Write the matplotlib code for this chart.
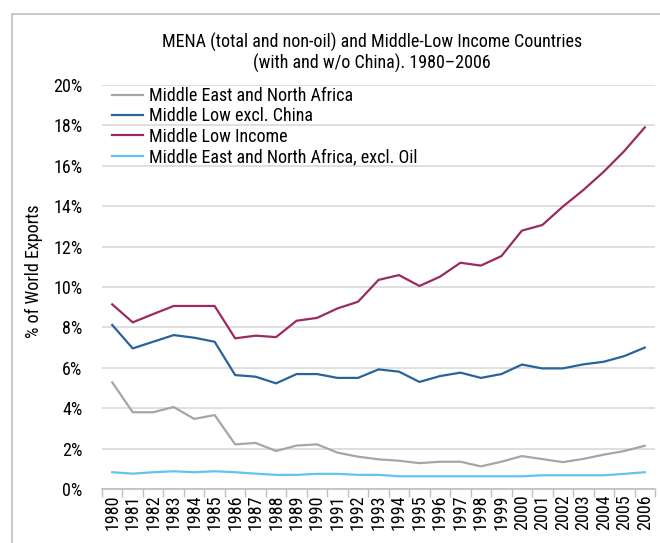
import numpy as np
import matplotlib
matplotlib.use("Agg")
import matplotlib.pyplot as plt
from matplotlib.patches import Rectangle
from matplotlib.ticker import FixedLocator, FuncFormatter

plt.rcParams['font.family'] = ['Roboto Condensed', 'DejaVu Sans']

# data (% of world exports)
years = list(range(1980, 2007))
mena = [5.28, 3.80, 3.80, 4.06, 3.47, 3.66, 2.21, 2.28, 1.88, 2.15, 2.21, 1.80, 1.60,
        1.47, 1.40, 1.28, 1.35, 1.35, 1.12, 1.35, 1.63, 1.48, 1.33, 1.49, 1.70, 1.88, 2.14]
mid_low_ex_china = [8.12, 6.96, 7.29, 7.62, 7.49, 7.29, 5.64, 5.56, 5.23, 5.69, 5.69, 5.50, 5.50,
                    5.92, 5.81, 5.30, 5.59, 5.76, 5.50, 5.69, 6.16, 5.97, 5.97, 6.17, 6.30, 6.58, 7.00]
mid_low = [9.14, 8.25, 8.66, 9.06, 9.06, 9.06, 7.46, 7.59, 7.52, 8.33, 8.47, 8.94, 9.27,
           10.35, 10.59, 10.05, 10.51, 11.20, 11.06, 11.53, 12.79, 13.07, 13.98, 14.80, 15.71, 16.73, 17.90]
mena_ex_oil = [0.83, 0.76, 0.83, 0.88, 0.83, 0.88, 0.83, 0.76, 0.70, 0.70, 0.75, 0.75, 0.70,
               0.70, 0.63, 0.63, 0.63, 0.63, 0.63, 0.63, 0.63, 0.68, 0.68, 0.68, 0.68, 0.75, 0.83]
labels = ['Middle East and North Africa', 'Middle Low excl. China', 'Middle Low Income',
          'Middle East and North Africa, excl. Oil']
yticks = [0, 2, 4, 6, 8, 10, 12, 14, 16, 18, 20]

fs = 13
fig = plt.figure(figsize=(6.6, 5.43), dpi=100)
ax = fig.add_axes([102/660, 1-489/543, 553/660, 404/543])

x = np.arange(len(years))
ax.plot(x, mena, color='#a6a6a6', lw=1.6, label=labels[0])
ax.plot(x, mid_low_ex_china, color='#2a629c', lw=1.6, label=labels[1])
ax.plot(x, mid_low, color='#9a2a62', lw=1.6, label=labels[2])
ax.plot(x, mena_ex_oil, color='#62c3ef', lw=1.6, label=labels[3])

ax.set_xlim(-0.5, len(years) - 0.5)
ax.set_ylim(0, 20)
ax.set_yticks(yticks)
ax.yaxis.set_major_formatter(FuncFormatter(lambda v, p: '%d%%' % v))
ax.set_xticks(x)
ax.set_xticklabels([str(y) for y in years], rotation=90)
ax.xaxis.set_minor_locator(FixedLocator(np.arange(-0.5, len(years), 1)))
ax.tick_params(axis='x', which='major', length=0, pad=4, labelsize=fs)
ax.tick_params(axis='x', which='minor', length=6, color='#bfbfbf', width=1)
ax.tick_params(axis='y', length=0, pad=14, labelsize=fs)

ax.grid(axis='y', color='#d9d9d9', lw=1.2)
ax.set_axisbelow(True)
for s in ['top', 'right', 'left']:
    ax.spines[s].set_visible(False)
ax.spines['bottom'].set_color('#bfbfbf')
ax.spines['bottom'].set_linewidth(1.2)

ax.set_ylabel('% of World Exports', fontsize=fs)
ax.yaxis.set_label_coords(-0.107, 0.54)

fig.legend(loc='upper left', bbox_to_anchor=(112/660, 1-87/543), frameon=False,
           fontsize=fs, handlelength=1.7, handletextpad=0.35, labelspacing=0.13,
           borderpad=0, borderaxespad=0)

fig.text(372/660, 1-42/543, 'MENA (total and non-oil) and Middle-Low Income Countries',
         ha='center', va='center', fontsize=fs)
fig.text(372/660, 1-63/543, '(with and w/o China). 1980\u20132006',
         ha='center', va='center', fontsize=fs)

# outer frame
fig.patches.append(Rectangle((12/660, -0.1), 1.2, 1.1 - 14/543, transform=fig.transFigure,
                             fill=False, edgecolor='#bfbfbf', lw=1.2))

fig.savefig('out.png', dpi=100)
